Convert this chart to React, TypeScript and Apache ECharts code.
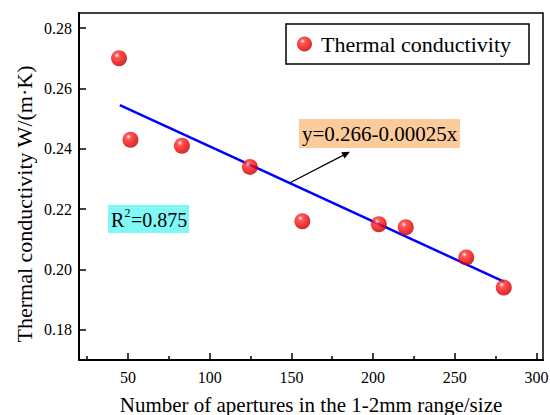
import React, { useEffect, useRef } from "react";
import * as echarts from "echarts";

const pointX = [44.5, 51.5, 83, 124.6, 156.7, 203.5, 220, 257, 280];
const pointY = [0.270, 0.243, 0.241, 0.234, 0.216, 0.215, 0.214, 0.204, 0.194];
const fitX = [45, 280];
const fitY = [0.2545, 0.196];
const xTickValues = [50, 100, 150, 200, 250, 300];
const xMinorValues = [25, 75, 125, 175, 225, 275];
const yTickValues = [0.18, 0.2, 0.22, 0.24, 0.26, 0.28];
const seriesName = "Thermal conductivity";
const xTitle = "Number of apertures in the 1-2mm range/size";
const yTitle = "Thermal conductivity W/(m\u00B7K)";
const equationText = "y=0.266-0.00025x";
const r2Value = "=0.875";

const FONT = "Liberation Serif";

export default function App() {
  const ref = useRef<HTMLDivElement>(null);
  useEffect(() => {
    if (!ref.current) return;
    const chart = echarts.init(ref.current, undefined, { renderer: "svg" });
    const sphere = new echarts.graphic.RadialGradient(0.38, 0.32, 0.7, [
      { offset: 0, color: "#ffffff" },
      { offset: 0.22, color: "#ff3030" },
      { offset: 0.7, color: "#ee0000" },
      { offset: 1, color: "#b00000" },
    ]);
    chart.setOption({
      animation: false,
      backgroundColor: "#ffffff",
      textStyle: { fontFamily: FONT },
      grid: {
        left: 79,
        top: 13,
        right: 7,
        bottom: 55,
        show: true,
        borderColor: "#000",
        borderWidth: 1.5,
        backgroundColor: "transparent",
        containLabel: false,
        outerBoundsMode: "none",
      },
      legend: {
        show: true,
        data: [seriesName],
        left: 286,
        top: 24,
        orient: "horizontal",
        padding: [9, 18, 9, 11],
        borderColor: "#000",
        borderWidth: 1.5,
        itemWidth: 15,
        itemHeight: 15,
        icon: "circle",
        itemGap: 10,
        textStyle: { fontFamily: FONT, fontSize: 22, color: "#000", padding: [0, 0, 0, 4] },
      },
      xAxis: [
        {
          type: "value",
          min: 20,
          max: 304,
          name: xTitle,
          nameLocation: "middle",
          nameGap: 34,
          nameTextStyle: { fontFamily: FONT, fontSize: 21, color: "#000" },
          axisLine: { show: true, lineStyle: { color: "#000", width: 2 } },
          axisTick: { show: true, inside: true, length: 7, customValues: xTickValues, lineStyle: { color: "#000", width: 1.5 } },
          axisLabel: {
            show: true,
            customValues: xTickValues,
            margin: 9,
            fontFamily: "Times New Roman, Liberation Serif, serif",
            fontSize: 16,
            color: "#000",
          },
          splitLine: { show: false },
        },
        {
          type: "value",
          min: 20,
          max: 304,
          position: "bottom",
          axisLine: { show: false },
          axisTick: { show: true, inside: true, length: 4, customValues: xMinorValues, lineStyle: { color: "#000", width: 1.5 } },
          axisLabel: { show: false },
          splitLine: { show: false },
        },
      ],
      yAxis: {
        type: "value",
        min: 0.17,
        max: 0.285,
        axisLine: { show: true, lineStyle: { color: "#000", width: 2 } },
        axisTick: { show: true, inside: true, length: 7, customValues: yTickValues, lineStyle: { color: "#000", width: 1.5 } },
        axisLabel: {
          show: true,
          customValues: yTickValues,
          margin: 7,
          fontFamily: "Times New Roman, Liberation Serif, serif",
          fontSize: 16,
          color: "#000",
          formatter: (v: number) => v.toFixed(2),
        },
        splitLine: { show: false },
      },
      series: [
        {
          name: "fit",
          type: "line",
          xAxisIndex: 0,
          data: fitX.map((x, i) => [x, fitY[i]]),
          showSymbol: false,
          symbol: "none",
          lineStyle: { color: "#0000ff", width: 2.5 },
          z: 2,
        },
        {
          name: seriesName,
          type: "scatter",
          xAxisIndex: 0,
          data: pointX.map((x, i) => [x, pointY[i]]),
          symbol: "circle",
          symbolSize: 16,
          itemStyle: { color: sphere },
          z: 3,
        },
      ],
      graphic: [
        {
          type: "text",
          x: 24,
          y: 204,
          rotation: Math.PI / 2,
          style: {
            text: yTitle,
            fontFamily: FONT,
            fontSize: 22,
            fill: "#000",
            align: "center",
            verticalAlign: "middle",
          },
        },
        {
          type: "rect",
          shape: { x: 299, y: 119, width: 161, height: 29 },
          style: { fill: "#fccb9c" },
          z: 10,
        },
        {
          type: "text",
          x: 302,
          y: 134,
          style: { text: equationText, fontFamily: FONT, fontSize: 21, fill: "#000", align: "left", verticalAlign: "middle" },
          z: 11,
        },
        {
          type: "line",
          shape: { x1: 290, y1: 182.7, x2: 343, y2: 155.4 },
          style: { stroke: "#000", lineWidth: 1.2 },
          z: 10,
        },
        {
          type: "polygon",
          shape: { points: [[350, 151.7], [344.5, 158.6], [341.3, 152.3]] },
          style: { fill: "#000" },
          z: 10,
        },
        {
          type: "rect",
          shape: { x: 108, y: 205, width: 81, height: 28 },
          style: { fill: "#80f8f8" },
          z: 10,
        },
        {
          type: "text",
          x: 111,
          y: 220,
          style: { text: "R", fontFamily: FONT, fontSize: 20, fill: "#000", align: "left", verticalAlign: "middle" },
          z: 11,
        },
        {
          type: "text",
          x: 124.5,
          y: 213,
          style: { text: "2", fontFamily: FONT, fontSize: 12, fill: "#000", align: "left", verticalAlign: "middle" },
          z: 11,
        },
        {
          type: "text",
          x: 131,
          y: 220,
          style: { text: r2Value, fontFamily: FONT, fontSize: 20, fill: "#000", align: "left", verticalAlign: "middle" },
          z: 11,
        },
      ],
    });
    return () => chart.dispose();
  }, []);
  return <div ref={ref} style={{ position: "fixed", left: 0, top: 0, width: 550, height: 415 }} />;
}
